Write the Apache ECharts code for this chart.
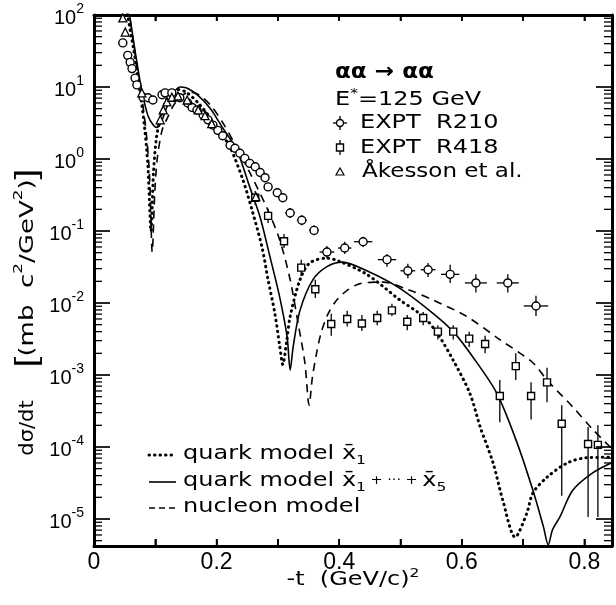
<!DOCTYPE html>
<html><head><meta charset="utf-8">
<script src="https://cdn.jsdelivr.net/npm/echarts@6/dist/echarts.min.js"></script>
<style>html,body{margin:0;padding:0;background:#fff}#c{width:616px;height:605px}</style>
</head><body><div id="c"></div>
<script>
// ---- data (t in (GeV/c)^2, dσ/dt in mb c^2/GeV^2) ----
const quarkX1 = [[0.050,250],[0.055,100],[0.065,32],[0.075,8.9],[0.083,2.5],[0.088,0.79],[0.093,0.10],[0.097,0.63],[0.102,2.0],[0.110,4.2],[0.120,7.1],[0.135,9.3],[0.150,8.5],[0.170,6.0],[0.190,3.7],[0.210,2.1],[0.222,1.47],[0.243,0.51],[0.259,0.18],[0.274,0.060],[0.284,0.021],[0.295,0.0072],[0.303,0.0025],[0.308,0.0014],[0.314,0.0028],[0.320,0.0065],[0.336,0.021],[0.352,0.036],[0.380,0.042],[0.400,0.038],[0.445,0.025],[0.499,0.011],[0.537,0.0065],[0.560,0.0038],[0.586,0.0016],[0.613,0.00056],[0.630,0.00019],[0.651,0.00006],[0.667,0.000018],[0.687,0.0000056],[0.706,0.000012],[0.716,0.000023],[0.739,0.000038],[0.772,0.000060],[0.804,0.000071],[0.847,0.000072]];
const quarkX1to5 = [[0.052,200],[0.058,100],[0.068,28],[0.078,8.9],[0.088,4.0],[0.097,2.95],[0.103,2.75],[0.110,3.3],[0.120,5.6],[0.130,8.3],[0.140,10],[0.150,9.8],[0.170,7.6],[0.190,5.0],[0.210,2.7],[0.233,1.33],[0.254,0.41],[0.271,0.155],[0.287,0.044],[0.303,0.012],[0.315,0.0034],[0.320,0.00117],[0.325,0.0025],[0.336,0.0079],[0.357,0.021],[0.380,0.032],[0.405,0.037],[0.445,0.028],[0.499,0.016],[0.553,0.0072],[0.586,0.0040],[0.618,0.00178],[0.657,0.00056],[0.690,0.000115],[0.716,0.000025],[0.733,0.0000079],[0.741,0.0000044],[0.748,0.0000071],[0.760,0.0000107],[0.781,0.000025],[0.814,0.000044],[0.847,0.000062]];
const nucleon = [[0.052,200],[0.058,100],[0.068,25],[0.078,7.1],[0.086,2.0],[0.091,0.50],[0.095,0.051],[0.099,0.32],[0.103,0.98],[0.111,2.5],[0.119,3.6],[0.130,5.6],[0.140,7.2],[0.155,8.5],[0.170,7.9],[0.190,5.6],[0.210,3.2],[0.230,1.6],[0.254,0.65],[0.282,0.21],[0.303,0.075],[0.320,0.021],[0.333,0.0052],[0.344,0.00148],[0.351,0.00038],[0.356,0.00089],[0.363,0.0020],[0.371,0.0040],[0.382,0.0071],[0.396,0.011],[0.413,0.015],[0.434,0.0186],[0.471,0.0195],[0.511,0.0155],[0.553,0.011],[0.608,0.0065],[0.662,0.0031],[0.716,0.00148],[0.739,0.00085],[0.781,0.00036],[0.814,0.000174],[0.847,0.000091]];
// EXPT R210, small-t points (no visible bars)
const r210 = [[0.047,41],[0.055,27.5],[0.059,22],[0.062,18],[0.067,13.3],[0.070,10.7],[0.080,7.2],[0.088,7.1],[0.096,6.6],[0.111,7.8],[0.116,8.3],[0.127,8.3],[0.140,7.1],[0.153,6.0],[0.160,5.2],[0.168,4.8],[0.178,4.1],[0.186,3.5],[0.194,2.95],[0.202,2.5],[0.210,2.1],[0.222,1.55],[0.230,1.41],[0.238,1.2],[0.246,1.02],[0.254,0.87],[0.263,0.78],[0.271,0.65],[0.279,0.55],[0.284,0.41],[0.299,0.34],[0.308,0.29]];
// EXPT R210 with errors: [t, value, low, high, t half-width]
const r210Err = [[0.320,0.178,0.151,0.209,0.008],[0.339,0.141,0.120,0.166,0.008],[0.359,0.102,0.087,0.120,0.008],[0.380,0.051,0.042,0.062,0.012],[0.409,0.058,0.048,0.071,0.011],[0.439,0.071,0.060,0.083,0.015],[0.478,0.040,0.032,0.048,0.015],[0.512,0.028,0.022,0.035,0.012],[0.545,0.029,0.023,0.036,0.012],[0.581,0.025,0.019,0.034,0.015],[0.623,0.019,0.014,0.025,0.018],[0.675,0.019,0.014,0.025,0.018],[0.721,0.0091,0.0066,0.0126,0.020]];
// EXPT R418: [t, value, low, high]
const r418 = [[0.263,0.29,0.23,0.36],[0.284,0.162,0.129,0.204],[0.310,0.072,0.058,0.091],[0.338,0.031,0.0237,0.040],[0.361,0.0155,0.0117,0.021],[0.387,0.0051,0.0035,0.0071],[0.413,0.0060,0.0047,0.0078],[0.437,0.0052,0.0041,0.0068],[0.462,0.0062,0.0049,0.0078],[0.486,0.0079,0.0066,0.0098],[0.511,0.0055,0.0042,0.0068],[0.537,0.0062,0.0049,0.0075],[0.561,0.0040,0.0031,0.0049],[0.586,0.0040,0.0031,0.0049],[0.612,0.0032,0.00245,0.0040],[0.638,0.0027,0.0020,0.0035],[0.662,0.00051,0.00022,0.00085],[0.688,0.00133,0.00085,0.0020],[0.713,0.00051,0.00024,0.00079],[0.739,0.00079,0.00042,0.00126],[0.763,0.00021,0.000021,0.00038],[0.806,0.00011,0.0000107,0.00019],[0.822,0.000107,0.0000107,0.00020]];
const akesson = [[0.047,91],[0.051,58],[0.078,8.3],[0.108,3.5],[0.113,4.8],[0.119,6.2],[0.127,7.2],[0.137,7.5],[0.152,6.6],[0.170,4.8],[0.181,4.0],[0.192,3.1],[0.264,0.30]];
const xTicks = [0,0.1,0.2,0.3,0.4,0.5,0.6,0.7,0.8];
const xLabels = [0,0.2,0.4,0.6,0.8];
const yDecades = [-5,-4,-3,-2,-1,0,1,2];

// ---- build ----
const L = Math.log10;
const YMIN = -5.375, YMAX = 2, XMAX = 0.845;
const minorTicks = [];
for (let n = -6; n <= 1; n++) for (let k = 2; k <= 9; k++) { const v = n + L(k); if (v > YMIN && v < YMAX) minorTicks.push(v); }
const toLog = a => a.map(p => [p[0], L(p[1])]);
const FONT = 'DejaVu Sans';

function yTickRenderer(len, w) {
  return function (params, api) {
    const cs = params.coordSys;
    const p = api.coord([XMAX / 2, api.value(0)]);
    return {type:'group', children:[
      {type:'line', shape:{x1:cs.x, y1:p[1], x2:cs.x + len, y2:p[1]}, style:{stroke:'#000', lineWidth:w}},
      {type:'line', shape:{x1:cs.x + cs.width, y1:p[1], x2:cs.x + cs.width - len, y2:p[1]}, style:{stroke:'#000', lineWidth:w}}
    ]};
  };
}
function xTickRender(params, api) {
  const cs = params.coordSys;
  const p = api.coord([api.value(0), (YMIN + YMAX) / 2]);
  return {type:'group', children:[
    {type:'line', shape:{x1:p[0], y1:cs.y + cs.height, x2:p[0], y2:cs.y + cs.height - 7}, style:{stroke:'#000', lineWidth:1.6}},
    {type:'line', shape:{x1:p[0], y1:cs.y, x2:p[0], y2:cs.y + 6}, style:{stroke:'#000', lineWidth:1.6}}
  ]};
}

function errRender(params, api) {
  const t = api.value(0), lo = api.value(1), hi = api.value(2), dt = api.value(3), yv = api.value(4);
  const a = api.coord([t, lo]), b = api.coord([t, hi]);
  const ch = [{type:'line', shape:{x1:a[0],y1:a[1],x2:b[0],y2:b[1]}, style:{stroke:'#000', lineWidth:1.3}}];
  if (dt > 0) {
    const c = api.coord([t - dt, yv]), d = api.coord([t + dt, yv]);
    ch.push({type:'line', shape:{x1:c[0],y1:c[1],x2:d[0],y2:d[1]}, style:{stroke:'#000', lineWidth:1.3}});
  }
  return {type:'group', children: ch};
}

function txt(x, y, text, o = {}) {
  return {type:'text', x, y, scaleX: o.sx || 1.2, rotation: o.rot || 0, z: 20,
    style: {text, fontFamily: FONT, fontSize: o.fs || 20, fontWeight: o.fw || 'normal', fill:'#000',
      align: o.align || 'left', verticalAlign: 'middle', rich: o.rich}};
}
const rich = {
  n: {fontSize: 20, fontFamily: FONT, lineHeight: 26},
  sub: {fontSize: 13, fontFamily: FONT, lineHeight: 13, verticalAlign: 'bottom'},
  sup: {fontSize: 13, fontFamily: FONT, lineHeight: 13, verticalAlign: 'top'},
  sm: {fontSize: 12, fontFamily: FONT, lineHeight: 26},
  br: {fontSize: 30, fontFamily: 'Liberation Sans', lineHeight: 32}
};

const mkAxisLine = () => ({show:true, onZero:false, lineStyle:{color:'#000', width:3}});
const option = {
  animation: false,
  backgroundColor: '#fff',
  grid: {left: 94, right: 4, top: 15, bottom: 59, containLabel: false},
  xAxis: [
    {type:'value', position:'bottom', min:0, max:XMAX, interval:0.1, splitLine:{show:false},
      axisLine: mkAxisLine(),
      axisTick:{show:true, inside:true, length:7, lineStyle:{color:'#000', width:1.6}},
      axisLabel:{margin: 5, color:'#000', fontFamily:'Liberation Sans', fontSize:23, showMaxLabel:false,
        formatter: v => { const k = Math.round(v * 10); if (Math.abs(v * 10 - k) > 1e-6 || k % 2 !== 0 || k > 8) return ''; return k === 0 ? '0' : v.toFixed(1); }}},
    {type:'value', position:'top', min:0, max:XMAX, interval:0.1, splitLine:{show:false},
      axisLine: mkAxisLine(),
      axisTick:{show:true, inside:true, length:6, lineStyle:{color:'#000', width:1.6}},
      axisLabel:{show:false}}
  ],
  yAxis: [
    {type:'value', position:'left', min:YMIN, max:YMAX, splitLine:{show:false}, axisTick:{show:false},
      axisLine: mkAxisLine(),
      axisLabel:{customValues: yDecades, margin: 10, color:'#000',
        formatter: v => '{b|10}{s|' + String(Math.round(v)) + '}',
        rich: {b:{fontFamily:'Liberation Sans', fontSize:20, lineHeight:26, verticalAlign:'bottom'},
               s:{fontFamily:'Liberation Sans', fontSize:14, lineHeight:14, verticalAlign:'top'}}}},
    {type:'value', position:'right', min:YMIN, max:YMAX, splitLine:{show:false}, axisTick:{show:false},
      axisLine: mkAxisLine(), axisLabel:{show:false}}
  ],
  series: [
    {type:'custom', renderItem: yTickRenderer(16, 1.7), z:10, data: yDecades.map(v => [v])},
    {type:'custom', renderItem: yTickRenderer(8, 1.3), z:10, data: minorTicks.map(v => [v])},
    {type:'custom', renderItem: xTickRender, z:10, data: xTicks.map(t => [t])},
    {type:'line', name:'quark model x1', data: toLog(quarkX1), showSymbol:false, smooth:0.3, clip:true,
      lineStyle:{color:'#000', width:3, type:[0.5,5], cap:'round'}, z:3},
    {type:'line', name:'quark model x1..x5', data: toLog(quarkX1to5), showSymbol:false, smooth:0.3, clip:true,
      lineStyle:{color:'#000', width:1.6}, z:3},
    {type:'line', name:'nucleon model', data: toLog(nucleon), showSymbol:false, smooth:0.3, clip:true,
      lineStyle:{color:'#000', width:1.6, type:[8,6]}, z:3},
    {type:'custom', name:'R210 errors', renderItem: errRender, z:4,
      data: r210Err.map(p => [p[0], L(p[2]), L(p[3]), p[4], L(p[1])])},
    {type:'custom', name:'R418 errors', renderItem: errRender, z:4,
      data: r418.map(p => [p[0], L(p[2]), L(p[3]), 0, L(p[1])])},
    {type:'scatter', name:'EXPT R210', symbol:'circle', symbolSize:8, z:5,
      itemStyle:{color:'#fff', borderColor:'#000', borderWidth:1.4, opacity:1},
      data: toLog(r210).concat(r210Err.map(p => [p[0], L(p[1])]))},
    {type:'scatter', name:'EXPT R418', symbol:'rect', symbolSize:7, z:5,
      itemStyle:{color:'#fff', borderColor:'#000', borderWidth:1.4, opacity:1},
      data: r418.map(p => [p[0], L(p[1])])},
    {type:'scatter', name:'Akesson', symbol:'triangle', symbolSize:8, z:5,
      itemStyle:{color:'#fff', borderColor:'#000', borderWidth:1.3, opacity:1},
      data: toLog(akesson)}
  ],
  graphic: [
    // top-right annotation
    txt(335, 73, 'αα → αα', {fs:21, fw:'bold', sx:1.1}),
    txt(335, 100, '{n|E}{sup|*}{n|=125 GeV}', {rich}),
    txt(360, 123, 'EXPT  R210', {}),
    txt(360, 148, 'EXPT  R418', {}),
    txt(362, 172, 'Åkesson et al.', {sx:1.15}),
    {type:'group', z:20, children:[
      {type:'line', shape:{x1:333,y1:123,x2:347,y2:123}, style:{stroke:'#000', lineWidth:1.3}},
      {type:'line', shape:{x1:340,y1:116,x2:340,y2:130}, style:{stroke:'#000', lineWidth:1.3}},
      {type:'circle', shape:{cx:340, cy:123, r:3.5}, style:{fill:'#fff', stroke:'#000', lineWidth:1.4}},
      {type:'line', shape:{x1:340,y1:140,x2:340,y2:155}, style:{stroke:'#000', lineWidth:1.3}},
      {type:'rect', shape:{x:336.5, y:144, width:7, height:7}, style:{fill:'#fff', stroke:'#000', lineWidth:1.4}},
      {type:'polygon', shape:{points:[[340,168],[344,175],[336,175]]}, style:{fill:'#fff', stroke:'#000', lineWidth:1.2}}
    ]},
    // bottom-left legend
    {type:'group', z:20, children:[
      {type:'line', shape:{x1:149,y1:455,x2:176,y2:455}, style:{stroke:'#000', lineWidth:3, lineDash:[0.5,5], lineCap:'round'}},
      {type:'line', shape:{x1:149,y1:482,x2:176,y2:482}, style:{stroke:'#000', lineWidth:1.6}},
      {type:'line', shape:{x1:149,y1:508,x2:176,y2:508}, style:{stroke:'#000', lineWidth:1.6, lineDash:[6,4]}}
    ]},
    txt(183, 454, '{n|quark model x̄}{sub|1}', {rich}),
    txt(183, 481, '{n|quark model x̄}{sub|1}{sm| + ··· + }{n|x̄}{sub|5}', {rich}),
    txt(183, 507, 'nucleon model', {}),
    // axis titles
    txt(353, 580, '{n|-t  (GeV/c)}{sup|2}', {rich, align:'center'}),
    txt(28, 428, 'dσ/dt', {rot: Math.PI/2, align:'center', sx:1.05}),
    txt(28, 268, '{br|[}{n|(mb  c}{sup|2}{n|/GeV}{sup|2}{n|)}{br|]}', {rich, rot: Math.PI/2, align:'center', sx:1.3})
  ]
};
const chart = echarts.init(document.getElementById('c'), null, {renderer:'canvas'});
chart.setOption(option);
</script></body></html>
